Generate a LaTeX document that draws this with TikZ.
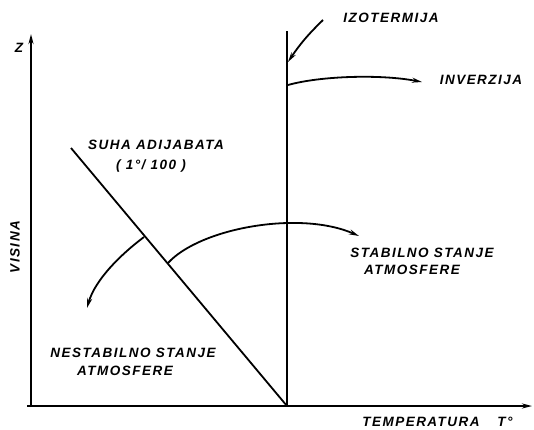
\documentclass[tikz,border=0pt]{standalone}
\usepackage{fontspec}
\setmainfont{Liberation Sans}[LetterSpace=11]
\usetikzlibrary{arrows.meta}
\begin{document}
\begin{tikzpicture}[x=1pt,y=-1pt,
  lab/.style={font=\fontsize{13.5}{15}\selectfont\bfseries\itshape, inner sep=0pt},
  ln/.style={line width=1.8pt},
  arr/.style={ln,-{Stealth[length=10pt,width=5pt]}}]
\useasboundingbox (0,0) rectangle (534,429);
% axes
\coordinate (O) at (31,407);
\coordinate (xs) at (27,406);
\coordinate (xt) at (532,406);
\coordinate (zt) at (31,34);
\draw[arr] (O) -- (zt);
\draw[arr] (xs) -- (xt);
% isotherm vertical line
\coordinate (vb) at (287,406);
\coordinate (vt) at (287,31);
\draw[ln] (vb) -- (vt);
% dry adiabat
\coordinate (as) at (71,148);
\draw[ln] (as) -- (vb);
% labels
\node[lab] (z) at (19,48) {Z};
\node[lab,rotate=90] (visina) at (15,247) {VISINA};
\node[lab] (temp) at (421,422) {TEMPERATURA};
\node[lab] (tdeg) at (505,422) {T°};
\node[lab] (izo) at (391,18) {IZOTERMIJA};
\node[lab] (inv) at (481,80) {INVERZIJA};
\node[lab] (suha) at (156,145) {SUHA ADIJABATA};
\node[lab] (grad) at (151,166) {( 1°/ 100 )};
\node[lab] (stab1) at (422,253) {STABILNO STANJE};
\node[lab] (stab2) at (412,270) {ATMOSFERE};
\node[lab] (nest1) at (133,353) {NESTABILNO STANJE};
\node[lab] (nest2) at (125,371) {ATMOSFERE};
% arrows
\coordinate (i1) at (323,20);
\coordinate (i2) at (288,62);
\draw[arr] (i1) to[bend right=6] (i2);
\coordinate (v1) at (288,85);
\coordinate (v2) at (422,82);
\draw[arr] (v1) .. controls (320,76) and (380,74) .. (v2);
\coordinate (r1) at (168,263);
\coordinate (r2) at (359,236);
\draw[arr] (r1) .. controls (200,228) and (300,210) .. (r2);
\coordinate (l1) at (144,237);
\coordinate (l2) at (87,308);
\draw[arr] (l1) .. controls (120,255) and (95,280) .. (l2);
\end{tikzpicture}
\end{document}
